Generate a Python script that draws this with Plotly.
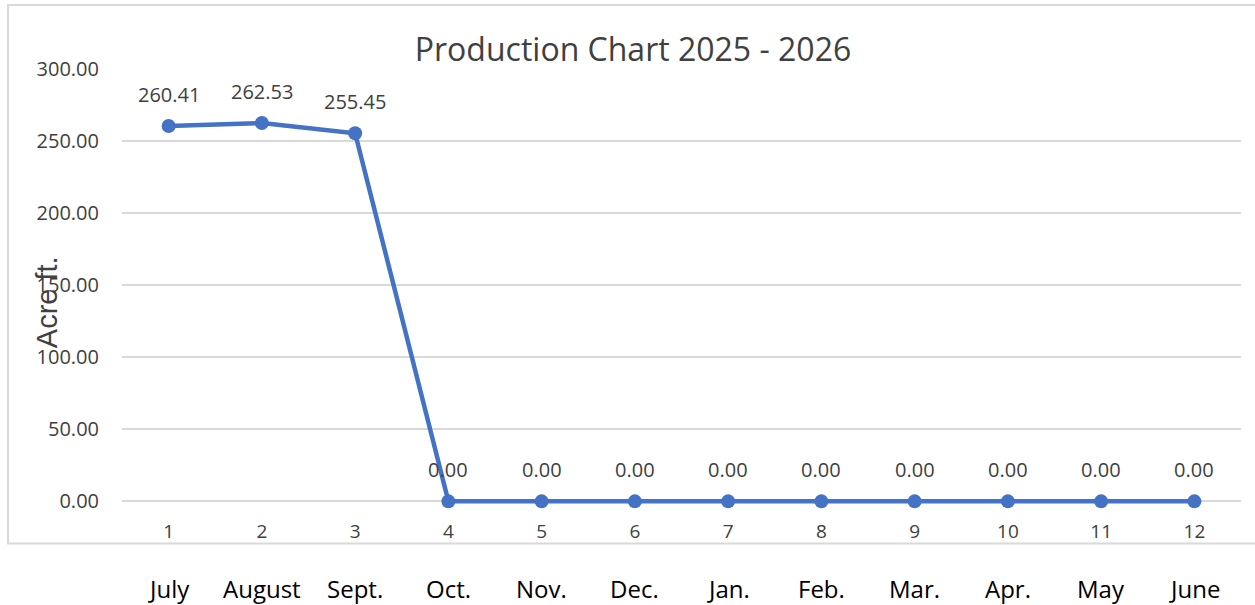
import plotly.graph_objects as go

categories = ["1", "2", "3", "4", "5", "6", "7", "8", "9", "10", "11", "12"]
months = ["July", "August", "Sept.", "Oct.", "Nov.", "Dec.", "Jan.", "Feb.", "Mar.", "Apr.", "May", "June"]
values = [260.41, 262.53, 255.45, 0, 0, 0, 0, 0, 0, 0, 0, 0]
y_ticks = [0, 50, 100, 150, 200, 250, 300]

W, H = 1255, 605
PX_PER_UNIT = 72 / 50
Y_MIN = -6
L, R, T = 122, 14, 69
ph = (300 - Y_MIN) * PX_PER_UNIT
B = H - T - ph
pw = W - L - R


def py(pix):
    """pixel row -> paper y"""
    return (H - B - pix) / ph


def px(pix):
    return (pix - L) / pw


fig = go.Figure()
fig.add_trace(go.Scatter(
    x=list(range(len(categories))), y=values, mode="lines+markers",
    line=dict(color="#4472C4", width=4.5),
    marker=dict(color="#4472C4", size=14),
    cliponaxis=False, hoverinfo="skip",
))

annotations = []
for i, v in enumerate(values):
    annotations.append(dict(
        x=i, xref="x", y=v, yref="y", text=f"{v:.2f}", showarrow=False,
        yshift=32, xanchor="center", yanchor="middle",
        font=dict(family="Open Sans", size=20, color="#404040"),
    ))
for i, m in enumerate(months):
    annotations.append(dict(
        x=i, xref="x", y=py(588), yref="paper",
        text=m, showarrow=False, yanchor="middle", xanchor="center",
        font=dict(family="Open Sans", size=24, color="#000000"),
    ))
annotations.append(dict(
    x=px(47), xref="paper", y=py(302), yref="paper",
    text="Acre ft.", textangle=-90, showarrow=False,
    font=dict(family="Liberation Sans", size=29, color="#404040"),
    xanchor="center", yanchor="middle"))

fig.update_layout(
    width=W, height=H,
    margin=dict(l=L, r=R, t=T, b=B),
    paper_bgcolor="white", plot_bgcolor="white",
    showlegend=False,
    title=dict(text="Production Chart 2025 - 2026", x=633 / W, xanchor="center",
               y=1 - 50 / H, yanchor="middle",
               font=dict(family="Open Sans", size=32, color="#404040")),
    xaxis=dict(range=[-0.5, 11.5], tickvals=list(range(len(categories))), ticktext=categories,
               showgrid=False, zeroline=False, showline=False, ticks="",
               tickfont=dict(family="Open Sans", size=19, color="#404040"),
               ticklabelstandoff=8),
    yaxis=dict(range=[Y_MIN, 300], tickvals=y_ticks, ticktext=[f"{v:.2f}" for v in y_ticks],
               showgrid=True, gridcolor="#D9D9D9", gridwidth=2, zeroline=False,
               showline=False, ticks="", ticklabelstandoff=22,
               tickfont=dict(family="Open Sans", size=20, color="#404040")),
    annotations=annotations,
    shapes=[dict(type="rect", xref="paper", yref="paper",
                 x0=px(8), x1=px(1262), y0=py(543), y1=py(5),
                 line=dict(color="#D9D9D9", width=2), layer="below")],
)

fig.write_html("out.html", config={"displayModeBar": False},
               post_script="document.body.style.margin='0';document.body.style.overflow='hidden';")
